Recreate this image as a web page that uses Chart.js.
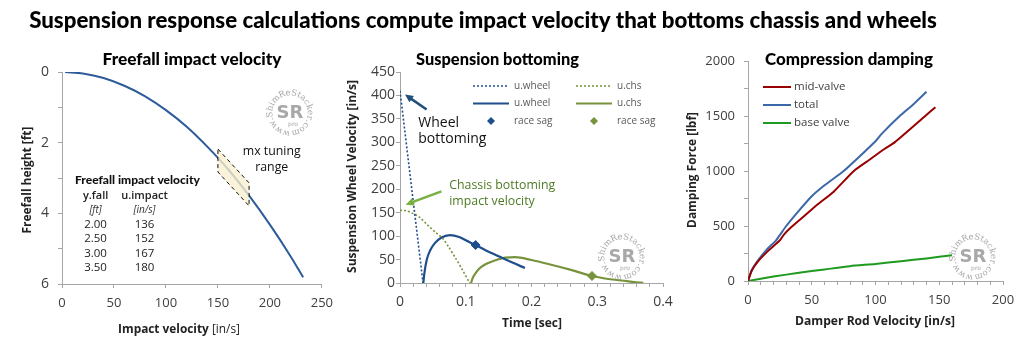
<!DOCTYPE html>
<html>
<head>
<meta charset="utf-8">
<script src="https://cdn.jsdelivr.net/npm/chart.js@4.4.0/dist/chart.umd.min.js"></script>
<style>
html, body { margin: 0; padding: 0; background: #fff; width: 1024px; height: 346px; overflow: hidden; }
canvas { position: absolute; }
</style>
</head>
<body>
<canvas id="head" width="1024" height="40" style="left:0;top:0"></canvas>
<canvas id="c1" width="340" height="306" style="left:0;top:40px"></canvas>
<canvas id="c2" width="340" height="306" style="left:340px;top:40px"></canvas>
<canvas id="c3" width="344" height="306" style="left:680px;top:40px"></canvas>
<script>
// ---- freefall panel
const fallU = [3, 20, 40, 60, 80, 100, 120, 140, 160, 180, 200, 220, 232];
const fallH = [0, 0.04, 0.17, 0.39, 0.69, 1.08, 1.55, 2.12, 2.76, 3.50, 4.32, 5.22, 5.81];
const tuneU = [150, 180, 180, 150, 150];
const tuneH = [2.18, 3.14, 3.79, 2.83, 2.18];
const tableFall = ['2.00', '2.50', '3.00', '3.50'];
const tableImpact = ['136', '152', '167', '180'];

// ---- bottoming panel
const wheelDotT = [0, 0.035];
const wheelDotV = [410, 0];
const chsDotT = [0, 0.01, 0.02, 0.03, 0.043, 0.055, 0.065, 0.0735, 0.085, 0.095, 0.106];
const chsDotV = [155, 154, 148, 140, 122, 107, 95, 78, 52, 28, 0];
const wheelT = [0.0355, 0.037, 0.0406, 0.046, 0.053, 0.062, 0.076, 0.09, 0.1, 0.115, 0.13, 0.15, 0.17, 0.19];
const wheelV = [0, 20, 49, 70, 85, 96, 102, 98, 91, 81, 70, 57, 44, 32];
const chsT = [0.108, 0.111, 0.115, 0.12, 0.13, 0.14, 0.16, 0.175, 0.2, 0.23, 0.26, 0.292, 0.32, 0.345, 0.36, 0.37];
const chsV = [0, 12, 21, 30, 40, 46, 54, 55, 49, 39, 28, 15, 8, 4, 1.5, 0.5];
const wheelSag = [0.115, 81];
const chsSag = [0.292, 15];

// ---- damping panel
const midVel = [0, 3, 8, 15, 25, 28, 33, 45, 55, 67, 83, 95, 107, 115, 139, 147];
const midForce = [0, 95, 180, 265, 370, 420, 480, 600, 700, 810, 1000, 1100, 1200, 1260, 1500, 1580];
const totVel = [0, 3, 8, 15, 22, 30, 40, 50, 60, 75, 90, 100, 105, 119, 130, 140];
const totForce = [0, 100, 190, 290, 370, 500, 640, 770, 870, 1000, 1160, 1270, 1340, 1500, 1610, 1720];
const baseVel = [0, 20, 40, 60, 80, 100, 120, 140, 160];
const baseForce = [0, 40, 75, 105, 135, 155, 180, 205, 235];

const AXIS = '#a6a6a6';
const TICK = '#404040';
const SANS = '"Open Sans", "Noto Sans", sans-serif';
const HEAVY = 'Lato, "DejaVu Sans", sans-serif';

const pts = (xs, ys) => xs.map((x, i) => ({ x: x, y: ys[i] }));
const isMult = (v, e) => Math.abs(v / e - Math.round(v / e)) < 1e-6;

function fitSize(ctx, runs, family, w) {
  let total = 0;
  runs.forEach(r => { ctx.font = r[1] + ' 100px ' + family; total += ctx.measureText(r[0]).width; });
  return 100 * w / total;
}

// one line of mixed-weight text, centred (or left) at x,y
function drawRuns(ctx, t) {
  ctx.save();
  const size = t.w ? fitSize(ctx, t.runs, t.family, t.w) : t.size;
  ctx.translate(t.x, t.y);
  if (t.rot) ctx.rotate(t.rot);
  let total = 0;
  const widths = t.runs.map(r => {
    ctx.font = r[1] + ' ' + size + 'px ' + t.family;
    const m = ctx.measureText(r[0]).width;
    total += m;
    return m;
  });
  let x = t.align === 'left' ? 0 : -total / 2;
  ctx.fillStyle = t.color || '#000';
  ctx.textBaseline = t.baseline || 'middle';
  ctx.textAlign = 'left';
  t.runs.forEach((r, i) => {
    ctx.font = r[1] + ' ' + size + 'px ' + t.family;
    ctx.fillText(r[0], x, 0);
    x += widths[i];
  });
  ctx.restore();
}

// several lines of same font, first line at x,y
function drawLines(ctx, t) {
  ctx.save();
  const size = t.w ? fitSize(ctx, [[t.lines[0], t.weight || '']], t.family || SANS, t.w) : t.size;
  ctx.font = (t.weight || '') + ' ' + size + 'px ' + (t.family || SANS);
  ctx.fillStyle = t.color || '#000';
  ctx.textAlign = t.align || 'center';
  ctx.textBaseline = 'middle';
  t.lines.forEach((s, i) => ctx.fillText(s, t.x, t.y + i * (t.lh || 0)));
  ctx.restore();
}

function drawArrow(ctx, a, b, color) {
  const ang = Math.atan2(b[1] - a[1], b[0] - a[0]);
  const head = 9;
  ctx.save();
  ctx.strokeStyle = color;
  ctx.fillStyle = color;
  ctx.lineWidth = 2.5;
  ctx.beginPath();
  ctx.moveTo(a[0], a[1]);
  ctx.lineTo(b[0] - Math.cos(ang) * head * 0.8, b[1] - Math.sin(ang) * head * 0.8);
  ctx.stroke();
  ctx.beginPath();
  ctx.moveTo(b[0], b[1]);
  ctx.lineTo(b[0] - head * Math.cos(ang - 0.45), b[1] - head * Math.sin(ang - 0.45));
  ctx.lineTo(b[0] - head * Math.cos(ang + 0.45), b[1] - head * Math.sin(ang + 0.45));
  ctx.closePath();
  ctx.fill();
  ctx.restore();
}

// watermark: SR badge with the site name round it
function drawLogo(ctx, cx, cy, r) {
  ctx.save();
  ctx.fillStyle = '#a8a8a8';
  ctx.textAlign = 'center';
  ctx.textBaseline = 'middle';
  ctx.font = 'bold 18px "DejaVu Sans", sans-serif';
  ctx.fillText('SR', cx, cy);
  ctx.font = '6px "DejaVu Sans", sans-serif';
  ctx.fillText('pro', cx + 3, cy + 11);
  ctx.font = '8.5px "DejaVu Serif", serif';
  let a = Math.PI * 0.5;
  for (const ch of 'www.ShimReStacker.com') {
    const w = ctx.measureText(ch).width;
    a += w / 2 / r;
    ctx.save();
    ctx.translate(cx + r * Math.cos(a), cy + r * Math.sin(a));
    ctx.rotate(a + Math.PI / 2);
    ctx.fillText(ch, 0, 0);
    ctx.restore();
    a += w / 2 / r + 0.03;
  }
  ctx.restore();
}

function drawLegend(chart, L) {
  const ctx = chart.ctx;
  chart.data.datasets.forEach((ds, i) => {
    if (ds.noLegend) return;
    const col = i % L.cols, row = Math.floor(i / L.cols);
    const x = L.x + col * L.colW, y = L.y + row * L.rowH;
    ctx.save();
    if (ds.showLine === false) {
      const cx = x + L.len / 2, r = 4;
      ctx.fillStyle = ds.backgroundColor;
      ctx.beginPath();
      ctx.moveTo(cx, y - r); ctx.lineTo(cx + r, y); ctx.lineTo(cx, y + r); ctx.lineTo(cx - r, y);
      ctx.closePath();
      ctx.fill();
    } else {
      ctx.strokeStyle = ds.borderColor;
      ctx.lineWidth = ds.borderWidth;
      ctx.setLineDash(ds.borderDash || []);
      ctx.beginPath();
      ctx.moveTo(x, y); ctx.lineTo(x + L.len, y);
      ctx.stroke();
    }
    ctx.setLineDash([]);
    ctx.fillStyle = L.color;
    ctx.font = L.font;
    ctx.textBaseline = 'middle';
    ctx.fillText(ds.label, x + L.len + L.gap, y);
    ctx.restore();
  });
}

const deco = {
  id: 'deco',
  beforeDatasetsDraw(chart, args, o) {
    if (o.logo) drawLogo(chart.ctx, o.logo[0], o.logo[1], o.logo[2]);
  },
  afterDraw(chart, args, o) {
    const ctx = chart.ctx, xs = chart.scales.x, ys = chart.scales.y;
    const px = p => [xs.getPixelForValue(p[0]), ys.getPixelForValue(p[1])];
    (o.arrows || []).forEach(a => drawArrow(ctx, px(a.from), px(a.to), a.color));
    (o.runs || []).forEach(t => drawRuns(ctx, t));
    (o.labels || []).forEach(t => {
      const p = px(t.at);
      drawLines(ctx, Object.assign({}, t, { x: p[0], y: p[1] }));
    });
    if (o.legend) drawLegend(chart, o.legend);
  }
};

function axisX(min, max, step, every, font, height) {
  return {
    type: 'linear', min: min, max: max,
    grid: { drawOnChartArea: false, drawTicks: true, tickLength: 4, color: AXIS },
    border: { display: true, color: AXIS },
    ticks: {
      stepSize: step, autoSkip: false, maxRotation: 0, padding: 7, color: TICK, font: font,
      callback: v => isMult(v, every) ? String(Number(v.toFixed(3))) : ''
    },
    afterFit: s => { s.height = height; }
  };
}
function axisY(min, max, step, every, font, width, pad, reverse) {
  return {
    type: 'linear', min: min, max: max, reverse: !!reverse,
    grid: { drawOnChartArea: false, drawTicks: true, tickLength: 4, color: AXIS },
    border: { display: true, color: AXIS },
    ticks: {
      stepSize: step, autoSkip: false, padding: pad, color: TICK, font: font,
      callback: v => isMult(v, every) ? String(v) : ''
    },
    afterFit: s => { s.width = width; }
  };
}

const base = {
  responsive: false,
  animation: false,
  events: [],
  elements: { point: { radius: 0 } }
};

// ---- header
(function () {
  const ctx = document.getElementById('head').getContext('2d');
  drawRuns(ctx, {
    runs: [['Suspension response calculations compute impact velocity that bottoms chassis and wheels', '900']],
    family: HEAVY, x: 483, y: 28, w: 908, baseline: 'alphabetic', color: '#000'
  });
})();

// ---- chart 1: freefall
const tickSmall = { family: SANS, size: 13 };
new Chart(document.getElementById('c1'), {
  type: 'scatter',
  data: {
    datasets: [
      { label: 'freefall', data: pts(fallU, fallH), showLine: true, borderColor: '#2E5C9A', borderWidth: 2, tension: 0.4, cubicInterpolationMode: 'monotone', order: 2, noLegend: true },
      { label: 'mx tuning range', data: pts(tuneU, tuneH), showLine: true, borderColor: '#111', borderWidth: 1, borderDash: [4, 3], backgroundColor: 'rgba(250,238,208,0.78)', fill: 'shape', tension: 0, order: 1, noLegend: true }
    ]
  },
  options: Object.assign({}, base, {
    layout: { padding: { top: 32, right: 17, left: 0, bottom: 0 } },
    scales: {
      x: axisX(0, 250, 50, 50, tickSmall, 62),
      y: axisY(0, 6, 1, 2, { family: SANS, size: 14 }, 62, 9, true)
    },
    plugins: {
      legend: { display: false }, tooltip: { enabled: false },
      deco: {
        logo: [290, 73, 20],
        runs: [
          { runs: [['Freefall impact velocity', '900']], family: HEAVY, x: 192, y: 25, w: 179, baseline: 'alphabetic' },
          { runs: [['Impact velocity ', 'bold'], ['[in/s]', 'normal']], family: SANS, x: 179, y: 290, w: 122, color: '#222' },
          { runs: [['Freefall height [ft]', 'bold']], family: SANS, x: 28, y: 140, w: 107, rot: -Math.PI / 2, color: '#222' }
        ],
        labels: [
          { lines: ['mx tuning', 'range'], at: [201.8, 2.24], w: 58, lh: 16, color: '#111' },
          { lines: ['Freefall impact velocity'], at: [12.5, 3.06], w: 125, weight: '900', family: HEAVY, align: 'left', color: '#111' },
          { lines: ['y.fall'], at: [32.3, 3.50], size: 11, weight: '600', color: '#222' },
          { lines: ['u.impact'], at: [79.4, 3.50], size: 11, weight: '600', color: '#222' },
          { lines: ['[ft]'], at: [32.3, 3.92], size: 10, weight: 'italic', color: '#333' },
          { lines: ['[in/s]'], at: [79.4, 3.92], size: 10, weight: 'italic', color: '#333' },
          { lines: tableFall, at: [32.3, 4.32], size: 11.5, lh: 14.4, color: '#222' },
          { lines: tableImpact, at: [79.4, 4.32], size: 11.5, lh: 14.4, color: '#222' }
        ]
      }
    }
  }),
  plugins: [deco]
});

// ---- chart 2: bottoming
const BLUE = '#1F4E8C', OLIVE = '#77933C';
new Chart(document.getElementById('c2'), {
  type: 'scatter',
  data: {
    datasets: [
      { label: 'u.wheel', data: pts(wheelDotT, wheelDotV), showLine: true, borderColor: BLUE, borderWidth: 1.6, borderDash: [2, 2] },
      { label: 'u.chs', data: pts(chsDotT, chsDotV), showLine: true, borderColor: OLIVE, borderWidth: 1.6, borderDash: [2, 2], tension: 0.3 },
      { label: 'u.wheel', data: pts(wheelT, wheelV), showLine: true, borderColor: BLUE, borderWidth: 2.2, tension: 0.4, cubicInterpolationMode: 'monotone' },
      { label: 'u.chs', data: pts(chsT, chsV), showLine: true, borderColor: OLIVE, borderWidth: 2.2, tension: 0.4, cubicInterpolationMode: 'monotone' },
      { label: 'race sag', data: [{ x: wheelSag[0], y: wheelSag[1] }], showLine: false, pointStyle: 'rectRot', pointRadius: 4.5, backgroundColor: BLUE, borderColor: BLUE },
      { label: 'race sag', data: [{ x: chsSag[0], y: chsSag[1] }], showLine: false, pointStyle: 'rectRot', pointRadius: 4.5, backgroundColor: OLIVE, borderColor: OLIVE }
    ]
  },
  options: Object.assign({}, base, {
    layout: { padding: { top: 32, right: 17, left: 0, bottom: 0 } },
    scales: {
      x: axisX(0, 0.4, 0.02, 0.1, { family: SANS, size: 14 }, 63),
      y: axisY(0, 450, 50, 50, { family: SANS, size: 14 }, 60, 1)
    },
    plugins: {
      legend: { display: false }, tooltip: { enabled: false },
      deco: {
        logo: [282, 217, 20],
        arrows: [
          { from: [0.0405, 370], to: [0.0076, 402], color: '#1F4E79' },
          { from: [0.063, 195.5], to: [0.0086, 167], color: '#77B043' }
        ],
        runs: [
          { runs: [['Suspension bottoming', '900']], family: HEAVY, x: 157.5, y: 25, w: 163, baseline: 'alphabetic' },
          { runs: [['Time [sec]', 'bold']], family: SANS, x: 192, y: 284, w: 60, color: '#222' },
          { runs: [['Suspension Wheel Velocity [in/s]', 'bold']], family: SANS, x: 13, y: 136.5, w: 193, rot: -Math.PI / 2, color: '#222' }
        ],
        labels: [
          { lines: ['Wheel', 'bottoming'], at: [0.0278, 341], size: 14, lh: 16, align: 'left', color: '#111' },
          { lines: ['Chassis bottoming', 'impact velocity'], at: [0.0749, 208], w: 106, lh: 16, align: 'left', color: '#4E7A24' }
        ],
        legend: { x: 133, y: 46, cols: 2, colW: 103, rowH: 17.5, len: 36, gap: 5, font: '10px ' + SANS, color: '#595959' }
      }
    }
  }),
  plugins: [deco]
});

// ---- chart 3: damping
new Chart(document.getElementById('c3'), {
  type: 'scatter',
  data: {
    datasets: [
      { label: 'mid-valve', data: pts(midVel, midForce), showLine: true, borderColor: '#990000', borderWidth: 2, tension: 0.2 },
      { label: 'total', data: pts(totVel, totForce), showLine: true, borderColor: '#3C68A8', borderWidth: 2, tension: 0.2 },
      { label: 'base valve', data: pts(baseVel, baseForce), showLine: true, borderColor: '#1E9A1E', borderWidth: 2, tension: 0.2 }
    ]
  },
  options: Object.assign({}, base, {
    layout: { padding: { top: 21, right: 21, left: 0, bottom: 0 } },
    scales: {
      x: axisX(0, 200, 10, 50, tickSmall, 65),
      y: axisY(0, 2000, 250, 500, tickSmall, 68, 9)
    },
    plugins: {
      legend: { display: false }, tooltip: { enabled: false },
      deco: {
        logo: [293, 217, 20],
        runs: [
          { runs: [['Compression damping', '900']], family: HEAVY, x: 169, y: 25, w: 168, baseline: 'alphabetic' },
          { runs: [['Damper Rod Velocity [in/s]', 'bold']], family: SANS, x: 195, y: 282, w: 160, color: '#222' },
          { runs: [['Damping Force [lbf]', 'bold']], family: SANS, x: 13, y: 130, w: 116, rot: -Math.PI / 2, color: '#222' }
        ],
        legend: { x: 83, y: 47, cols: 1, colW: 0, rowH: 18, len: 28, gap: 3, font: '11.5px ' + SANS, color: '#404040' }
      }
    }
  }),
  plugins: [deco]
});
</script>
</body>
</html>
